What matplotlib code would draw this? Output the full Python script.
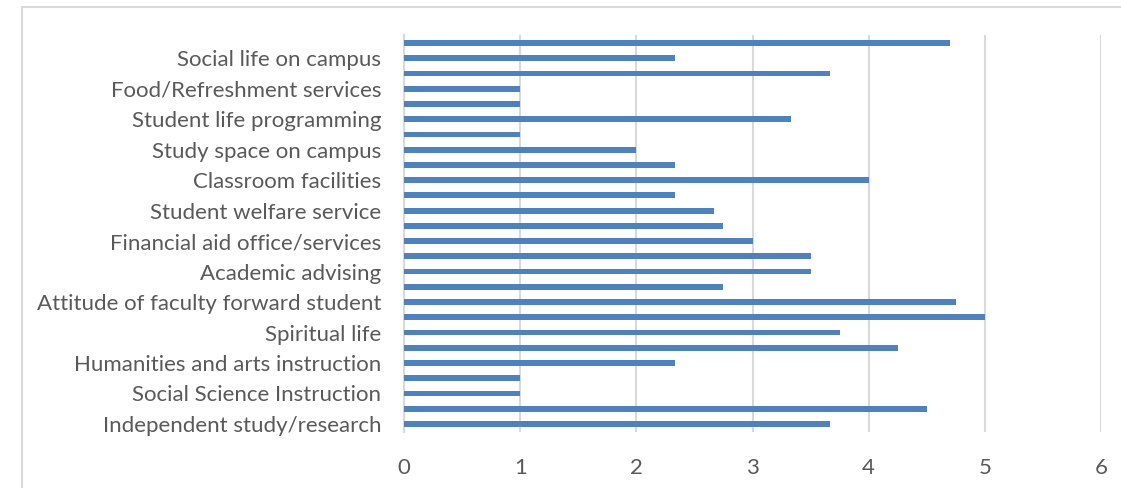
import matplotlib.pyplot as plt
import numpy as np
from matplotlib.patches import Rectangle

# values bottom -> top, 26 categories; only every other one is labelled
values = [3.67, 4.5, 1.0, 1.0, 2.33, 4.25, 3.75, 5.0, 4.75, 2.75, 3.5, 3.5, 3.0,
          2.75, 2.67, 2.33, 4.0, 2.33, 2.0, 1.0, 3.33, 1.0, 1.0, 3.67, 2.33, 4.7]
shown_labels = ["Independent study/research", "Social Science Instruction",
                "Humanities and arts instruction", "Spiritual life",
                "Attitude of faculty forward student", "Academic advising",
                "Financial aid office/services", "Student welfare service",
                "Classroom facilities", "Study space on campus",
                "Student life programming", "Food/Refreshment services",
                "Social life on campus"]
x_ticks = [0, 1, 2, 3, 4, 5, 6]

plt.rcParams['font.family'] = ['Lato', 'DejaVu Sans']
fig = plt.figure(figsize=(11.21, 4.88), dpi=100)
ax = fig.add_axes([0.3604, 0.1156, 0.6218, 0.8119])

y = np.arange(len(values))
ax.barh(y, values, height=0.38, color='#4f81bd', zorder=3)
ax.set_ylim(-0.5, len(values) - 0.5)
ax.set_xlim(0, 6)
ax.set_xticks(x_ticks)
ax.set_xticklabels([str(t) for t in x_ticks], fontsize=16, color='#595959')
ax.set_yticks(y[::2])
ax.set_yticklabels(shown_labels, fontsize=16, color='#595959')
ax.tick_params(axis='both', length=0)
ax.tick_params(axis='x', pad=19)
ax.tick_params(axis='y', pad=16.5)
ax.grid(axis='x', color='#d9d9d9', linewidth=1.5, zorder=0)
for s in ['top', 'right', 'bottom']:
    ax.spines[s].set_visible(False)
ax.spines['left'].set_color('#d9d9d9')
ax.spines['left'].set_linewidth(1.5)

# chart frame
fig.patches.append(Rectangle((22 / 1121, -0.1), 1.2, 1 - 7 / 488 + 0.1,
                             transform=fig.transFigure, fill=False,
                             edgecolor='#d9d9d9', linewidth=1.5))

plt.savefig("out.png")
